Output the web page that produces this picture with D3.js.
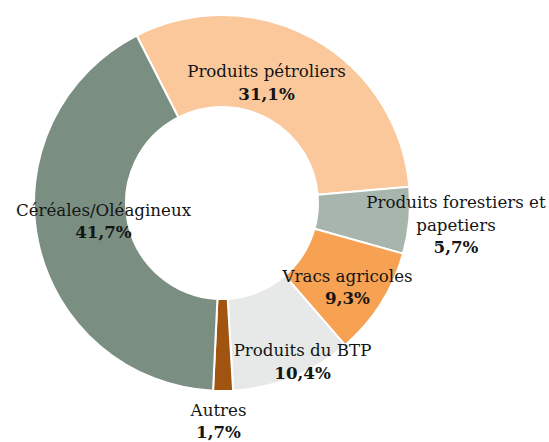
<!DOCTYPE html>
<html>
<head>
<meta charset="utf-8">
<script src="https://cdn.jsdelivr.net/npm/d3@7"></script>
<style>
  html, body { margin: 0; padding: 0; background: #ffffff; }
  svg { display: block; }
  text { font-family: "DejaVu Serif", "Liberation Serif", serif; fill: #141414; }
</style>
</head>
<body>
<svg id="chart" width="549" height="442"></svg>
<script>
// ---- data ----
const categories = ["Produits pétroliers", "Produits forestiers et papetiers", "Vracs agricoles", "Produits du BTP", "Autres", "Céréales/Oléagineux"];
const labelLines = [["Produits pétroliers"], ["Produits forestiers et", "papetiers"], ["Vracs agricoles"], ["Produits du BTP"], ["Autres"], ["Céréales/Oléagineux"]];
const values = [31.1, 5.7, 9.3, 10.4, 1.7, 41.7];
const valueLabels = ["31,1%", "5,7%", "9,3%", "10,4%", "1,7%", "41,7%"];
const colors = ["#FAC89B", "#A8B5AD", "#F7A152", "#E6E9E7", "#A0540F", "#7A8F82"];

// ---- layout ----
const cx = 222, cy = 203, rOuter = 188, rInner = 96;
const startDeg = -27;
const labelOffsets = [[-24.4, -1.8], [92.6, -8.2], [5.6, 2.7], [27, 21.5], [-4.3, 71], [20.3, -16.9]];
const lineGap = 22.5;

const svg = d3.select("#chart");

// fit font sizes to the reference text widths
function measure(str, size, weight) {
  const t = svg.append("text").style("font-size", size + "px").style("font-weight", weight).text(str);
  const w = t.node().getComputedTextLength();
  t.remove();
  return w;
}
const baseSize = 16;
const regW = measure("Produits pétroliers", baseSize, "normal") + measure("Céréales/Oléagineux", baseSize, "normal");
const fontSize = baseSize * (157 + 177) / regW;
const boldW = measure("31,1%", baseSize, "bold") + measure("41,7%", baseSize, "bold");
const boldSize = baseSize * (55 + 58) / boldW;

const g = svg.append("g").attr("transform", `translate(${cx},${cy})`);

const data = categories.map((c, i) => ({ cat: c, value: values[i], i }));
const start = startDeg * Math.PI / 180;
const pie = d3.pie().sort(null).value(d => d.value).startAngle(start).endAngle(start + 2 * Math.PI);
const arcs = pie(data);
const arc = d3.arc().innerRadius(rInner).outerRadius(rOuter);
const midArc = d3.arc().innerRadius((rInner + rOuter) / 2).outerRadius((rInner + rOuter) / 2);

g.selectAll("path.slice").data(arcs).join("path")
  .attr("class", "slice")
  .attr("d", arc)
  .attr("fill", d => colors[d.data.i])
  .attr("stroke", "#ffffff")
  .attr("stroke-width", 2)
  .attr("stroke-linejoin", "round");

const labels = g.selectAll("g.label").data(arcs).join("g")
  .attr("class", "label")
  .attr("transform", d => {
    const c = midArc.centroid(d);
    const o = labelOffsets[d.data.i];
    return `translate(${c[0] + o[0]},${c[1] + o[1]})`;
  });

labels.each(function(d) {
  const sel = d3.select(this);
  const lines = labelLines[d.data.i];
  lines.forEach((ln, k) => {
    sel.append("text")
      .attr("text-anchor", "middle")
      .attr("y", k * lineGap)
      .style("font-size", fontSize + "px")
      .text(ln);
  });
  sel.append("text")
    .attr("text-anchor", "middle")
    .attr("y", lines.length * lineGap)
    .style("font-size", boldSize + "px")
    .style("font-weight", "bold")
    .text(valueLabels[d.data.i]);
});
</script>
</body>
</html>
